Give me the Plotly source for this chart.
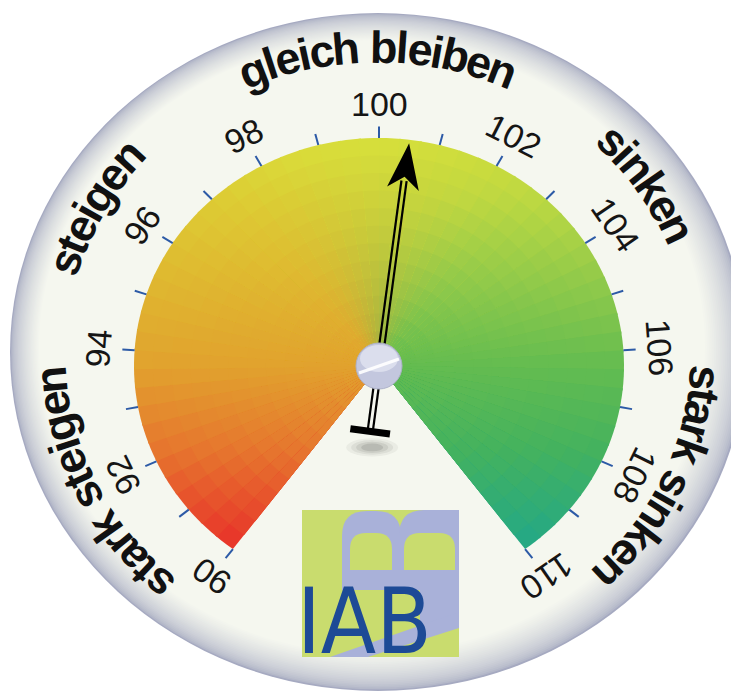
import math
import plotly.graph_objects as go

# ---------------- data ----------------
tick_values = list(range(90, 111))
label_values = [90, 92, 94, 96, 98, 100, 102, 104, 106, 108, 110]
label_texts = [str(v) for v in label_values]
zone_texts = ["stark steigen", "steigen", "gleich bleiben", "sinken", "stark sinken"]
zone_positions = [91.9, 95.75, 100.0, 103.9, 108.0]
needle_value = 100.5
logo_text = "IAB"

# ---------------- geometry / style ----------------
W, H = 739, 697
PAGE_OFF = 8                   # default body margin of the html page
CX, CY = 379.0, 366.0          # pivot
RX, RY = 245.0, 228.0          # coloured dial radii
SPAN = 286.8                   # degrees covered by the scale
VMIN, VMAX = min(tick_values), max(tick_values)

# vertical colour ramps of the left (rising) and right (falling) half of the dial
LEFT_RAMP = [(137, '#dce03a'), (200, '#ddcc34'), (280, '#dfb830'), (366, '#e1a22e'),
             (450, '#e6762e'), (548, '#e8302a')]
RIGHT_RAMP = [(137, '#d2e03c'), (200, '#bcd842'), (280, '#92ca4a'), (366, '#64bc50'),
              (450, '#44b25e'), (548, '#22a888')]

BOLD_W = {'s': 556, 't': 333, 'a': 556, 'r': 389, 'k': 556, ' ': 278, 'e': 556,
          'i': 278, 'g': 611, 'n': 611, 'l': 278, 'c': 556, 'h': 611, 'b': 611}


def hex2rgb(h):
    h = h.lstrip('#')
    return tuple(int(h[i:i + 2], 16) for i in (0, 2, 4))


def mix(a, b, f):
    return tuple(a[i] + (b[i] - a[i]) * f for i in range(3))


def rgbstr(c):
    return 'rgb(%d,%d,%d)' % tuple(round(x) for x in c)


def lerp_col(c1, c2, f):
    return rgbstr(mix(hex2rgb(c1), hex2rgb(c2), f))


def ramp(stops, y):
    if y <= stops[0][0]:
        return hex2rgb(stops[0][1])
    for (y0, c0), (y1, c1) in zip(stops[:-1], stops[1:]):
        if y0 <= y <= y1:
            return mix(hex2rgb(c0), hex2rgb(c1), (y - y0) / (y1 - y0))
    return hex2rgb(stops[-1][1])


def dial_color(tdeg, y):
    f = min(max((tdeg + 42) / 84, 0), 1)
    w = f * f * (3 - 2 * f)
    return rgbstr(mix(ramp(LEFT_RAMP, y), ramp(RIGHT_RAMP, y), w))


def theta(v):
    return math.radians(-SPAN / 2 + (v - VMIN) / (VMAX - VMIN) * SPAN)


def pt(v, r, rx=RX, ry=RY):
    t = theta(v)
    return CX + r * rx * math.sin(t), CY - r * ry * math.cos(t)


def tangent_deg_t(t, rx, ry):
    return math.degrees(math.atan2(ry * math.sin(t), rx * math.cos(t)))


shapes = []
annotations = []

# ---- outer disk with shaded rim ----
DCX, DCY, DRX, DRY = 378.0, 352.0, 368.0, 339.0
steps = 22
for k in range(steps + 1):
    f = k / steps
    s = 1 - 0.095 * f
    ccx, ccy = DCX - 6 * f, DCY - 5 * f
    col = lerp_col('#a6aac1', '#f5f7ef', f ** 0.55)
    shapes.append(dict(type='circle', xref='x', yref='y',
                       x0=ccx - DRX * s, x1=ccx + DRX * s,
                       y0=ccy - DRY * s, y1=ccy + DRY * s,
                       fillcolor=col, line=dict(width=0), layer='below'))

# ---- coloured dial (sectors painted outer -> inner for a smooth 2D gradient) ----
step = 20 / 60
n = 60
nr = 13
rings = [1.0 - j / nr for j in range(nr)]
for i in range(n):
    v0 = VMIN + i * step
    v1 = min(v0 + step + 0.04, VMAX)
    vm = v0 + step / 2
    tdeg = math.degrees(theta(vm))
    for r in rings:
        pts = [pt(v0 + (v1 - v0) * j / 3, r) for j in range(4)]
        path = f"M {CX},{CY} " + " ".join(f"L {x:.2f},{y:.2f}" for x, y in pts) + " Z"
        ym = pt(vm, max(r - 0.5 / nr, 0.0))[1]
        shapes.append(dict(type='path', xref='x', yref='y', path=path,
                           fillcolor=dial_color(tdeg, ym), line=dict(width=0), layer='below'))

fig = go.Figure()

# ---- ticks ----
tx, ty = [], []
for v in tick_values:
    x0, y0 = pt(v, 1.0)
    x1, y1 = pt(v, 1.05)
    tx += [x0, x1, None]
    ty += [y0, y1, None]
fig.add_trace(go.Scatter(x=tx, y=ty, mode='lines', line=dict(color='#2c5aa6', width=2),
                         hoverinfo='skip', showlegend=False))

# ---- tick labels ----
for v, txt in zip(label_values, label_texts):
    x, y = pt(v, 1.148)
    annotations.append(dict(x=x, y=y, xref='x', yref='y', text=txt, showarrow=False,
                            textangle=tangent_deg_t(theta(v), RX, RY),
                            xanchor='center', yanchor='middle',
                            font=dict(family='Liberation Sans', size=34, color='#151515')))

# ---- curved zone labels ----
ZF = 45
TRACK = 0.94
TCX, TCY = 378.0, 355.0
TRX, TRY = 328.0, 308.0
for text, vc in zip(zone_texts, zone_positions):
    tc = theta(vc)
    dsdt = math.hypot(TRX * math.cos(tc), TRY * math.sin(tc))
    widths = [BOLD_W.get(ch, 556) * ZF * TRACK / 1000 for ch in text]
    total = sum(widths)
    acc = 0.0
    for ch, w in zip(text, widths):
        s = acc + w / 2 - total / 2
        acc += w
        if ch == ' ':
            continue
        t = tc + s / dsdt
        x = TCX + TRX * math.sin(t)
        y = TCY - TRY * math.cos(t)
        annotations.append(dict(x=x, y=y, xref='x', yref='y', text=ch, showarrow=False,
                                textangle=tangent_deg_t(t, TRX, TRY),
                                xanchor='center', yanchor='middle',
                                font=dict(family='Liberation Sans', size=ZF,
                                          weight='bold', color='#111111')))

# ---- needle ----
tipx, tipy = pt(needle_value, 0.985)
dx, dy = tipx - CX, tipy - CY
L = math.hypot(dx, dy)
ux, uy = dx / L, dy / L
qx, qy = -uy, ux


def P(bx, by, a, b):
    return bx + a * ux + b * qx, by + a * uy + b * qy


tail = P(CX, CY, -66, 0)
# soft shadow under tail bar
for sr, op in [(26, 0.05), (21, 0.07), (16, 0.09), (11, 0.12)]:
    sx, sy = tail[0] + 2, tail[1] + 16
    shapes.append(dict(type='circle', xref='x', yref='y', x0=sx - sr, x1=sx + sr,
                       y0=sy - sr * 0.35, y1=sy + sr * 0.35,
                       fillcolor=f'rgba(40,40,40,{op})', line=dict(width=0), layer='above'))
# shaft (double line)
for off in (-2.6, 2.6):
    a0 = P(tail[0], tail[1], 0, off)
    a1 = P(tipx, tipy, -38, off)
    shapes.append(dict(type='line', xref='x', yref='y', x0=a0[0], y0=a0[1], x1=a1[0], y1=a1[1],
                       line=dict(color='#000000', width=2.2), layer='above'))
# tail bar
c = [P(tail[0], tail[1], a, b) for a, b in [(3.5, -20), (3.5, 20), (-3.5, 20), (-3.5, -20)]]
shapes.append(dict(type='path', xref='x', yref='y',
                   path="M " + " L ".join(f"{x:.2f},{y:.2f}" for x, y in c) + " Z",
                   fillcolor='#000000', line=dict(width=0), layer='above'))
# arrow head
hp = [(tipx, tipy), P(tipx, tipy, -46, 16), P(tipx, tipy, -34, 0), P(tipx, tipy, -46, -16)]
shapes.append(dict(type='path', xref='x', yref='y',
                   path="M " + " L ".join(f"{x:.2f},{y:.2f}" for x, y in hp) + " Z",
                   fillcolor='#000000', line=dict(width=0), layer='above'))
# pivot
PR = 23
shapes.append(dict(type='circle', xref='x', yref='y', x0=CX - PR, x1=CX + PR, y0=CY - PR, y1=CY + PR,
                   fillcolor='#c3c7de', line=dict(color='#aeb2ca', width=1), layer='above'))
shapes.append(dict(type='circle', xref='x', yref='y', x0=CX - 19, x1=CX + 19, y0=CY - 21, y1=CY + 6,
                   fillcolor='rgba(235,237,247,0.6)', line=dict(width=0), layer='above'))
shapes.append(dict(type='line', xref='x', yref='y', x0=CX - 20, y0=CY + 7, x1=CX + 20, y1=CY - 7,
                   line=dict(color='rgba(255,255,255,0.9)', width=3), layer='above'))

# ---- IAB logo ----
LIME, LILAC = '#c9dc6e', '#a9b1d9'
shapes.append(dict(type='rect', xref='x', yref='y', x0=302, x1=459, y0=510, y1=657,
                   fillcolor=LIME, line=dict(width=0), layer='above'))
logo_paths = [
    ("M 342,590 L 342,536 Q 342,511 367,511 L 376,511 Q 401,511 401,536 L 401,590 Z", LILAC),
    ("M 399,590 L 399,536 Q 399,510 424,510 L 459,510 L 459,590 Z", LILAC),
    ("M 350,570 L 350,549 Q 350,533 366,533 L 376,533 Q 392,533 392,549 L 392,570 Z", LIME),
    ("M 404,570 L 404,549 Q 404,533 420,533 L 439,533 Q 455,533 455,549 L 455,570 Z", LIME),
    ("M 420,590 L 459,590 L 459,626 L 420,626 Z", LILAC),
    ("M 330,657 L 459,612 L 459,628 L 368,657 Z", LILAC),
]
for pth, col in logo_paths:
    shapes.append(dict(type='path', xref='x', yref='y', path=pth, fillcolor=col,
                       line=dict(width=0), layer='above'))
annotations.append(dict(x=295, y=657 + 0.21 * 90, xref='x', yref='y', text=logo_text,
                        showarrow=False, xanchor='left', yanchor='bottom',
                        font=dict(family='Liberation Sans Narrow, DejaVu Sans Condensed, sans-serif',
                                  size=90, color='#1d4a96')))

# The page body has an 8px margin; shrink the figure and shift the ranges so that
# data coordinates land on the same screen pixels as the reference.
fig.update_layout(
    width=W - PAGE_OFF, height=H - PAGE_OFF, margin=dict(l=0, r=0, t=0, b=0),
    paper_bgcolor='white', plot_bgcolor='white', showlegend=False,
    xaxis=dict(range=[PAGE_OFF, W], visible=False, fixedrange=True),
    yaxis=dict(range=[H, PAGE_OFF], visible=False, fixedrange=True),
    shapes=shapes, annotations=annotations,
)
fig.write_html("out.html", config={'displayModeBar': False})
